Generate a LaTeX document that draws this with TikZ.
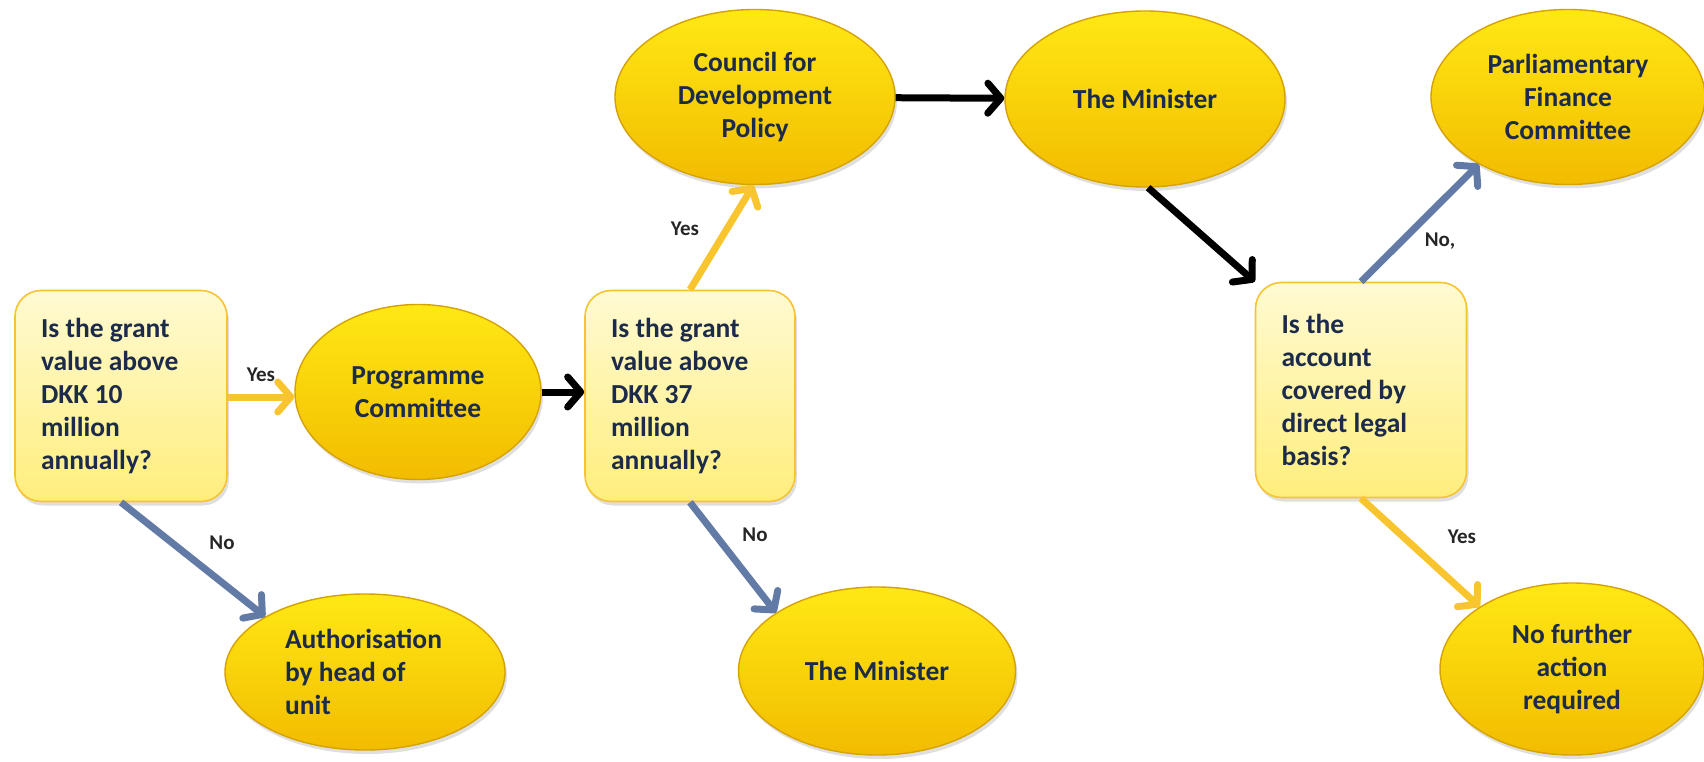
\documentclass[tikz,border=0pt]{standalone}
\usepackage{fontspec}
\setmainfont{Carlito}
\usetikzlibrary{arrows.meta,shadows,shapes.geometric}
\definecolor{txtnavy}{RGB}{28,43,74}
\definecolor{arrgold}{RGB}{249,197,46}
\definecolor{arrblue}{RGB}{98,122,166}
\definecolor{boxtop}{RGB}{255,250,210}
\definecolor{boxbot}{RGB}{255,238,125}
\definecolor{boxedge}{RGB}{246,196,50}
\definecolor{ovaltop}{RGB}{255,232,20}
\definecolor{ovalbot}{RGB}{242,188,0}
\definecolor{ovaledge}{RGB}{214,162,0}
\tikzset{
  question/.style={rectangle, rounded corners=26pt, draw=boxedge, line width=1.6pt,
    top color=boxtop, bottom color=boxbot, align=left, inner sep=0pt,
    text=txtnavy, font=\fontsize{27.5}{33}\selectfont\bfseries,
    drop shadow={shadow xshift=2pt, shadow yshift=-4pt, opacity=0.25}},
  oval/.style={ellipse, draw=ovaledge, line width=1.4pt,
    top color=ovaltop, bottom color=ovalbot, align=center, inner sep=0pt,
    text=txtnavy, font=\fontsize{27.5}{33}\selectfont\bfseries,
    drop shadow={shadow xshift=2pt, shadow yshift=-4pt, opacity=0.25}},
  flow/.style={line width=7pt, -{Straight Barb[length=13pt, width=30pt, line cap=round, line join=round]}},
  goldflow/.style={flow, draw=arrgold},
  blueflow/.style={flow, draw=arrblue},
  blackflow/.style={flow, draw=black},
  lbl/.style={font=\fontsize{21}{24}\selectfont\bfseries, text=black!85, inner sep=0pt}
}
\begin{document}
\begin{tikzpicture}[x=1pt, y=-1pt]
\useasboundingbox (0,0) rectangle (1704,762);

% decision boxes
\node[question, minimum width=212pt, minimum height=211pt] (b1) at (121,396)
  {\parbox{160pt}{Is the grant\\value above\\DKK 10\\million\\annually?}};
\node[question, minimum width=210pt, minimum height=211pt] (b2) at (690,396)
  {\parbox{158pt}{Is the grant\\value above\\DKK 37\\million\\annually?}};
\node[question, minimum width=211pt, minimum height=215pt] (b3) at (1361,390)
  {\parbox{159pt}{Is the\\account\\covered by\\direct legal\\basis?}};

% outcome ovals
\node[oval, minimum width=246pt, minimum height=175pt] (prog) at (418,392) {Programme\\Committee};
\node[oval, minimum width=280pt, minimum height=175pt] (council) at (755,97) {Council for\\Development\\Policy};
\node[oval, minimum width=280pt, minimum height=176pt] (min1) at (1145,99) {The Minister};
\node[oval, minimum width=274pt, minimum height=175pt] (parl) at (1568,97) {Parliamentary\\Finance\\Committee};
\node[oval, minimum width=280pt, minimum height=156pt] (auth) at (365,672) {\parbox{160pt}{\raggedright Authorisation\\by head of\\unit}};
\node[oval, minimum width=277pt, minimum height=168pt] (min2) at (877,671) {The Minister};
\node[oval, minimum width=264pt, minimum height=172pt] (nf) at (1572,669) {No further\\action\\required};

% connectors
\draw[goldflow] (b1.east |- 0,397) -- (prog.west |- 0,397);
\draw[blackflow] (prog.east) -- (b2.west |- prog.east);
\draw[goldflow] (b2.north) -- (council.269);
\draw[blackflow] (council) -- (min1);
\draw[blackflow] (min1.272) -- (b3.north west);
\draw[blueflow] (b3.north) -- (parl.217);
\draw[goldflow] (b3.south) -- (nf.146);
\draw[blueflow] (b1.south) -- (auth.151);
\draw[blueflow] (b2.south) -- (min2.150);

% connector labels
\node[lbl] (yes1) at (261,375) {Yes};
\node[lbl] (yes2) at (685,229) {Yes};
\node[lbl] (no1) at (222,543) {No};
\node[lbl] (no2) at (755,535) {No};
\node[lbl] (no3) at (1440,241) {No,};
\node[lbl] (yes3) at (1462,537) {Yes};
\end{tikzpicture}
\end{document}
